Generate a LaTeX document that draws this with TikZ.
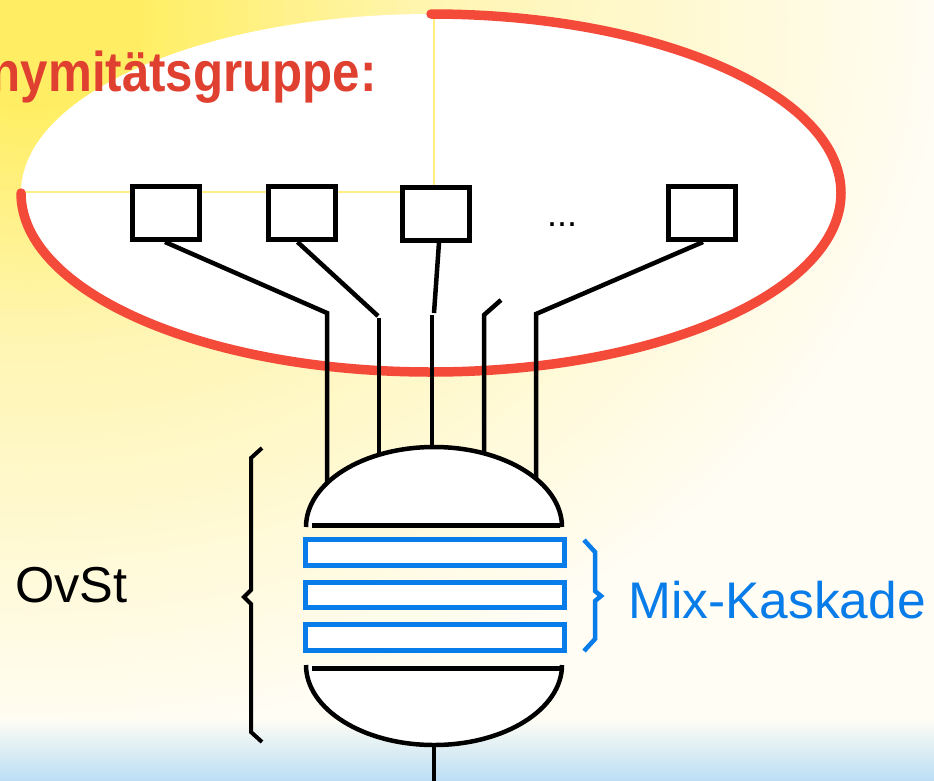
\documentclass[tikz,border=0pt]{standalone}
\usepackage{fontspec}
\setmainfont{Liberation Sans}
\usepackage{graphicx}
\definecolor{bgyellow}{RGB}{255,238,98}
\definecolor{midyellow}{RGB}{255,245,178}
\definecolor{bgcream}{RGB}{255,253,244}
\definecolor{bandblue}{RGB}{168,213,245}
\definecolor{ringred}{RGB}{244,74,58}
\definecolor{titlered}{RGB}{224,64,48}
\definecolor{mixblue}{RGB}{8,124,232}
\definecolor{guideyellow}{RGB}{255,238,130}
\begin{document}
\begin{tikzpicture}[x=1pt,y=-1pt,
  box/.style={draw=black, line width=5pt, fill=white, minimum width=67pt, minimum height=53pt, inner sep=0pt},
  wire/.style={line width=4.5pt, black},
  shell/.style={line width=4.5pt, draw=black, fill=white},
  plate/.style={line width=5pt, black},
  mixbox/.style={draw=mixblue, line width=5pt, fill=white},
  guide/.style={draw=guideyellow, line width=1.3pt},
  lbl/.style={inner sep=0pt, font=\fontsize{50.5}{60}\selectfont}
]
\useasboundingbox (0,0) rectangle (934,780);
\begin{scope}
\clip (0,0) rectangle (934,780);
% background: soft yellow glow from the top left corner
\fill[bgcream] (0,0) rectangle (934,780);
\foreach \i in {80,...,36} {
  \pgfmathsetmacro\p{(\i/80-0.45)/0.55*100}
  \pgfmathsetmacro\rx{11.5*\i}
  \pgfmathsetmacro\ry{9*\i}
  \fill[bgcream!\p!midyellow] (30,20) ellipse ({\rx} and {\ry});
}
\foreach \i in {35,...,10} {
  \pgfmathsetmacro\p{(\i/80-0.12)/0.33*100}
  \pgfmathsetmacro\rx{11.5*\i}
  \pgfmathsetmacro\ry{9*\i}
  \fill[midyellow!\p!bgyellow] (30,20) ellipse ({\rx} and {\ry});
}
\shade[top color=bgcream, bottom color=bandblue] (0,718) rectangle (934,798);
% anonymity set
\fill[white] (431,193) ellipse (410 and 179);
\draw[guide] (20,192) -- (434,192) -- (434,14);
\node[anchor=base east, inner sep=0pt, text=titlered, font=\bfseries\fontsize{56}{60}\selectfont] (title) at (377,91) {\scalebox{0.88}[1]{Anonymitätsgruppe:}};
\draw[ringred, line width=9.5pt, line cap=round] (431,14) arc[start angle=-90, end angle=180, x radius=410, y radius=179];
% users
\node[box] (b1) at (166,213) {};
\node[box] (b2) at (301.5,213) {};
\node[box] (b3) at (436,213.5) {};
\node[box] (b4) at (702,213) {};
\node[anchor=base, inner sep=0pt, font=\fontsize{36}{40}\selectfont] (dots) at (562,226) {...};
% wires
\coordinate (k1) at (327,313); \coordinate (e1) at (327,500);
\coordinate (k2) at (378,316); \coordinate (s2) at (379,318); \coordinate (e2) at (379,500);
\coordinate (k3) at (434,313); \coordinate (s3) at (432,315); \coordinate (e3) at (432,500);
\coordinate (t4) at (501,300); \coordinate (k4) at (484,315); \coordinate (e4) at (484,500);
\coordinate (k5) at (536,314); \coordinate (e5) at (536,500);
\draw[wire] ([xshift=-1pt]b1.south) -- (k1) -- (e1);
\draw[wire] ([xshift=-4pt]b2.south) -- (k2);
\draw[wire] (s2) -- (e2);
\draw[wire] ([xshift=3pt]b3.south) -- (k3);
\draw[wire] (s3) -- (e3);
\draw[wire] (t4) -- (k4) -- (e4);
\draw[wire] ([xshift=1pt]b4.south) -- (k5) -- (e5);
% mix cascade vessel
\filldraw[shell] (306,527) arc[start angle=180, end angle=360, x radius=128, y radius=80];
\draw[plate] (312,525) -- (560,525);
\draw[mixbox] (305.5,539.5) rectangle (564.5,565.5);
\draw[mixbox] (305.5,582.5) rectangle (564.5,607.5);
\draw[mixbox] (305.5,624.5) rectangle (564.5,650.5);
\filldraw[shell] (306,665) arc[start angle=180, end angle=0, x radius=128, y radius=80];
\draw[plate] (312,668) -- (560,668);
\draw[wire] (434,745) -- (434,781);
% braces
\draw[line width=4pt, black] (262,448) -- (251,458) -- (251,590) -- (244,597) -- (251,604) -- (251,732) -- (262,742);
\draw[line width=4.5pt, mixblue] (584,540) -- (595,552) -- (595,591) -- (601,596) -- (595,601) -- (595,639) -- (584,651);
% labels
\node[lbl, anchor=base west] (ovst) at (15,602) {OvSt};
\node[lbl, anchor=base west, text=mixblue, font=\fontsize{51.5}{60}\selectfont] (mix) at (628,618) {Mix-Kaskade};
\end{scope}
\end{tikzpicture}
\end{document}
